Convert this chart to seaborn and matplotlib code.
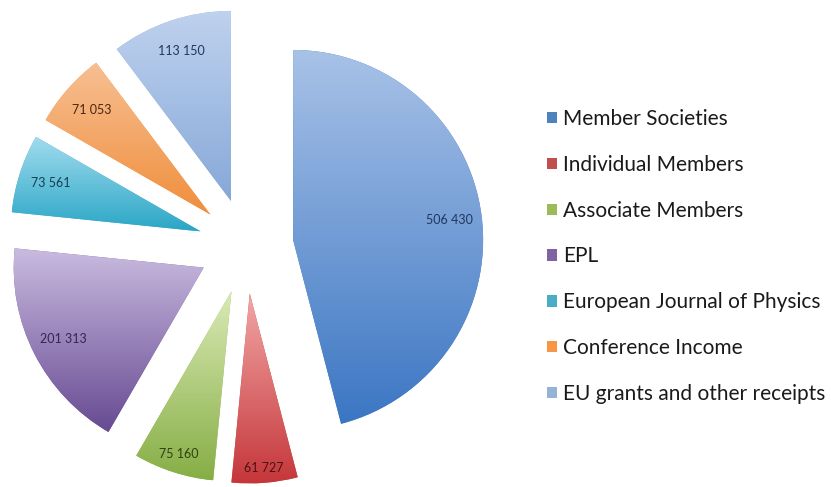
import numpy as np
import matplotlib
matplotlib.use("Agg")
import matplotlib.pyplot as plt
from matplotlib.colors import LinearSegmentedColormap
from matplotlib.patches import Patch
import seaborn as sns

# Income sources (EUR)
categories = [
    "Member Societies",
    "Individual Members",
    "Associate Members",
    "EPL",
    "European Journal of Physics",
    "Conference Income",
    "EU grants and other receipts",
]
income = [506430, 61727, 75160, 201313, 73561, 71053, 113150]
value_labels = ["506 430", "61 727", "75 160", "201 313", "73 561", "71 053", "113 150"]

# Office-style theme colours: legend swatch, gradient top, gradient bottom, label ink
swatch = ["#4f81bd", "#c0504d", "#9bbb59", "#8064a2", "#4bacc6", "#f79646", "#95b3d7"]
grad_top = ["#a8c2e7", "#f2a7a6", "#dbeab6", "#c9bbe0", "#a2dcee", "#f7bf92", "#bfd2ee"]
grad_bottom = ["#3b76c3", "#c5363a", "#86ae45", "#674a92", "#2aa6c6", "#f08e3c", "#86a8d8"]
label_ink = ["#1f3660", "#4a1414", "#2e4212", "#35264f", "#163f52", "#4a2710", "#1f3660"]
label_dist = [0.83, 0.92, 0.90, 0.83, 0.83, 0.83, 0.83]

sns.set_style("white")
plt.rcParams["font.family"] = ["Lato", "DejaVu Sans"]

W, H = 831, 487
fig = plt.figure(figsize=(W / 100, H / 100), dpi=100)
fig.patch.set_facecolor("white")

R_PX = 190.0
CX, CY = 246.0, 241.0  # pie centre in pixels from the lower-left corner
ax_w, ax_h = 2 * CX, 2 * CY
ax = fig.add_axes([0, 0, ax_w / W, ax_h / H])

wedges, _ = ax.pie(
    income,
    startangle=90,
    counterclock=False,
    explode=[0.25] * len(income),
    radius=1.0,
    colors=swatch,
    wedgeprops=dict(linewidth=0),
)

# vertical gradient fill clipped to every wedge
grad = np.linspace(0, 1, 256).reshape(-1, 1)
for w, top, bot in zip(wedges, grad_top, grad_bottom):
    verts = w.get_path().vertices
    x0, y0 = verts.min(axis=0)
    x1, y1 = verts.max(axis=0)
    cmap = LinearSegmentedColormap.from_list("g", [bot, top])
    im = ax.imshow(grad, cmap=cmap, origin="lower", aspect="auto",
                   extent=(x0, x1, y0, y1), interpolation="bilinear", zorder=2)
    im.set_clip_path(w)

# value labels along each wedge bisector
for w, txt, ink, d in zip(wedges, value_labels, label_ink, label_dist):
    th = np.deg2rad(0.5 * (w.theta1 + w.theta2))
    cx, cy = w.center
    ax.text(cx + d * w.r * np.cos(th), cy + d * w.r * np.sin(th), txt,
            ha="center", va="center", fontsize=9, color=ink, zorder=3)

ax.set_xlim(-CX / R_PX, CX / R_PX)
ax.set_ylim(-CY / R_PX, CY / R_PX)
ax.set_aspect("auto")
ax.set_axis_off()

handles = [Patch(facecolor=c, edgecolor="none") for c in swatch]
fig.legend(
    handles, categories,
    loc="upper left",
    bbox_to_anchor=(547 / W, 1 - 109 / H),
    frameon=False,
    fontsize=15,
    handlelength=0.47,
    handleheight=0.47,
    handletextpad=0.3,
    labelspacing=1.24,
    borderpad=0,
    borderaxespad=0,
    labelcolor="#1a1a1a",
)

fig.savefig("out.png", dpi=100, facecolor="white")
